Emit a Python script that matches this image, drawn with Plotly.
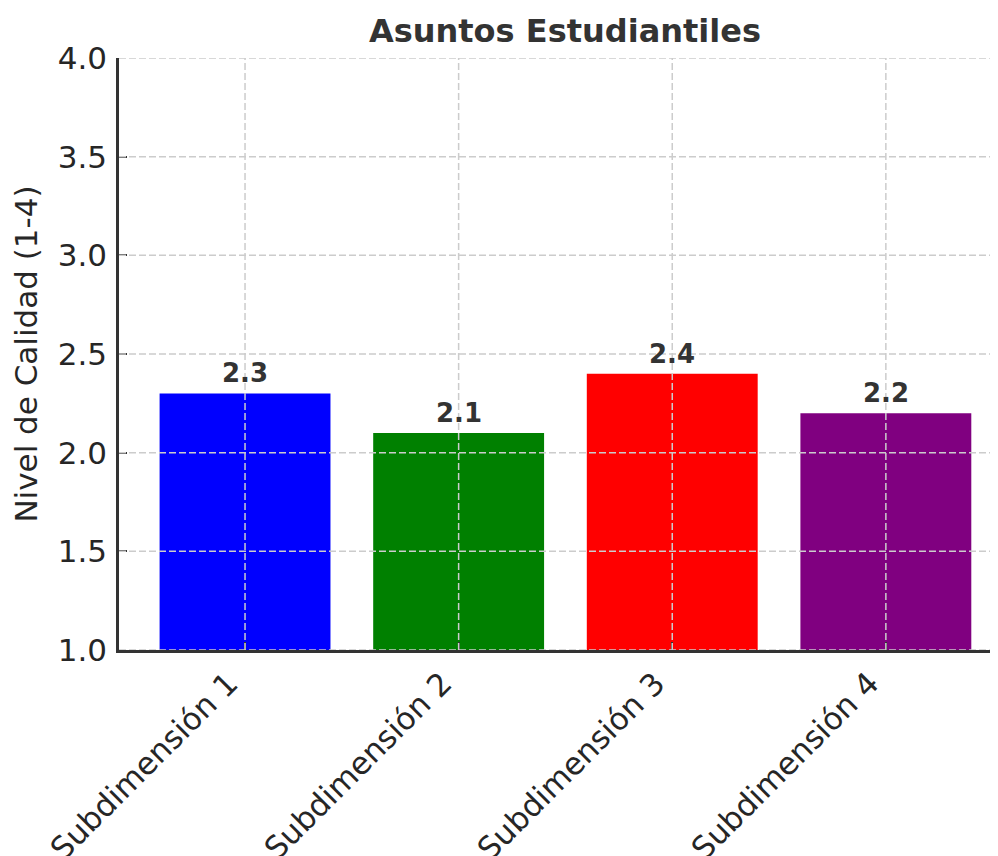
import plotly.graph_objects as go

categories = ["Subdimensión 1", "Subdimensión 2", "Subdimensión 3", "Subdimensión 4"]
values = [2.3, 2.1, 2.4, 2.2]
bar_colors = ["#0000ff", "#008000", "#ff0000", "#800080"]
y_ticks = [1.0, 1.5, 2.0, 2.5, 3.0, 3.5, 4.0]
title_text = "Asuntos Estudiantiles"
y_title = "Nivel de Calidad (1-4)"

FONT = "DejaVu Sans"
x_idx = list(range(len(categories)))

fig = go.Figure()
fig.add_trace(go.Bar(
    x=x_idx, y=values, marker=dict(color=bar_colors, line=dict(width=0)),
    width=0.8, showlegend=False, hoverinfo="skip",
))

for xi, v in zip(x_idx, values):
    fig.add_annotation(x=xi, y=v, text=f"<b>{v:.1f}</b>", showarrow=False,
                       yanchor="bottom", yshift=3,
                       font=dict(family=FONT, size=26, color="#333333"))

# rotated category labels (anchored like right-aligned 45° labels)
for xi, lab in zip(x_idx, categories):
    fig.add_annotation(x=xi, y=0, xref="x", yref="y domain", text=lab, showarrow=False,
                       textangle=-45, xanchor="right", yanchor="top",
                       xshift=2, yshift=-12,
                       font=dict(family=FONT, size=31, color="#262626"))

shapes = []
grid_style = dict(color="#cccccc", width=1.5, dash="7px,3px")
for t in y_ticks:
    shapes.append(dict(type="line", xref="x domain", yref="y", x0=0, x1=1, y0=t, y1=t,
                       line=grid_style, layer="above"))
for xi in x_idx:
    shapes.append(dict(type="line", xref="x", yref="y domain", x0=xi, x1=xi, y0=0, y1=1,
                       line=grid_style, layer="above"))

fig.update_layout(
    width=990, height=848,
    margin=dict(l=111, r=0, t=50, b=206),
    paper_bgcolor="white", plot_bgcolor="white",
    font=dict(family=FONT, color="#262626"),
    title=dict(text=f"<b>{title_text}</b>", x=0.5626, xanchor="center", y=0.973, yanchor="middle",
               font=dict(family=FONT, size=32, color="#333333")),
    shapes=shapes,
    bargap=0.2,
)
fig.update_xaxes(
    range=[-0.59, 3.525], tickmode="array", tickvals=x_idx, ticktext=[""] * len(x_idx),
    automargin=False,
    showgrid=False, zeroline=False,
    showline=True, linecolor="#333333", linewidth=2.5,
    ticks="inside", ticklen=8, tickwidth=2, tickcolor="#333333",
)
fig.update_yaxes(
    range=[1.0, 4.0], tickmode="array", tickvals=y_ticks, tickformat=".1f",
    tickfont=dict(family=FONT, size=31, color="#262626"),
    ticklabelstandoff=3, automargin=False,
    title=dict(text=y_title, font=dict(family=FONT, size=31, color="#262626"), standoff=14),
    showgrid=False, zeroline=False,
    showline=True, linecolor="#333333", linewidth=2.5,
    ticks="inside", ticklen=8, tickwidth=2, tickcolor="#333333",
)

fig.write_html("out.html")
